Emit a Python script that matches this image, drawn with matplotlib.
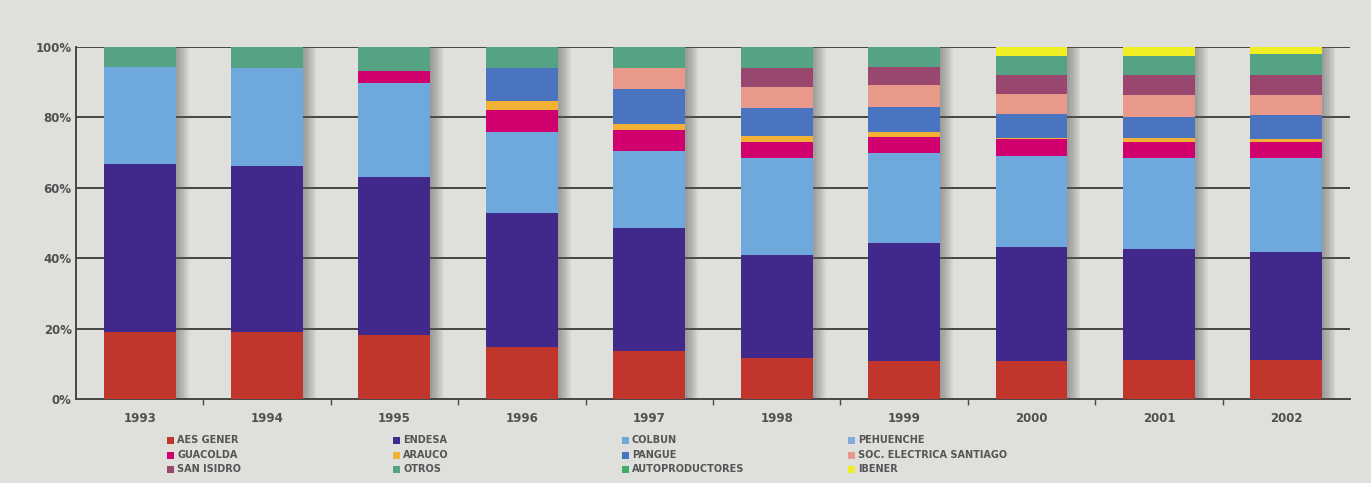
import matplotlib
matplotlib.use("Agg")
import matplotlib.pyplot as plt
from matplotlib.patches import Rectangle
import numpy as np

years = ["1993", "1994", "1995", "1996", "1997", "1998", "1999", "2000", "2001", "2002"]

aes_gener       = [19.2, 19.2, 18.2, 14.8, 13.7, 11.6, 10.7, 10.7, 11.1, 11.1]
endesa          = [47.5, 47.0, 44.8, 38.1, 35.0, 29.3, 33.7, 32.6, 31.4, 30.8]
colbun          = [27.6, 27.7, 26.6, 23.0, 21.8, 27.4, 25.4, 25.7, 25.8, 26.4]
pehuenche       = [0, 0, 0, 0, 0, 0, 0, 0, 0, 0]
guacolda        = [0, 0, 3.4, 6.1, 5.9, 4.8, 4.5, 4.7, 4.8, 4.8]
arauco          = [0, 0, 0, 2.5, 1.8, 1.6, 1.6, 0.5, 0.9, 0.7]
pangue          = [0, 0, 0, 9.4, 9.8, 7.8, 7.0, 6.8, 6.1, 6.8]
soc_electrica   = [0, 0, 0, 0, 5.9, 6.1, 6.2, 5.7, 6.2, 5.7]
san_isidro      = [0, 0, 0, 0, 0, 5.3, 5.2, 5.2, 5.6, 5.6]
otros           = [5.7, 6.1, 7.0, 6.1, 6.1, 6.1, 5.7, 5.6, 5.5, 6.0]
autoproductores = [0, 0, 0, 0, 0, 0, 0, 0, 0, 0]
ibener          = [0, 0, 0, 0, 0, 0, 0, 2.5, 2.6, 2.1]

series_names = ["AES GENER", "ENDESA", "COLBUN", "PEHUENCHE",
                "GUACOLDA", "ARAUCO", "PANGUE", "SOC. ELECTRICA SANTIAGO",
                "SAN ISIDRO", "OTROS", "AUTOPRODUCTORES", "IBENER"]
series_vals = [aes_gener, endesa, colbun, pehuenche, guacolda, arauco, pangue,
               soc_electrica, san_isidro, otros, autoproductores, ibener]
colors = ["#c0362c", "#40298a", "#6fa8dc", "#86a9dc",
          "#d0006f", "#f2b134", "#4a74c0", "#e8998a",
          "#9a4770", "#55a383", "#3fae6a", "#f0ee24"]

BG = "#dfe0dc"
fig = plt.figure(figsize=(13.71, 4.83), dpi=100, facecolor=BG)
ax = fig.add_axes([0.0554, 0.1735, 0.9293, 0.7298])
ax.set_facecolor(BG)

x = np.arange(len(years))
width = 0.565

# gridlines
for g in [20, 40, 60, 80, 100]:
    ax.axhline(g, color="#454545", lw=1.4, zorder=1)

# soft shadows
for k in range(8):
    off = 0.01 + k * 0.013
    ax.bar(x + off, [100] * len(x), width, color="#5a5a5a", alpha=0.08,
           zorder=2, linewidth=0)

bottom = np.zeros(len(years))
for name, vals, c in zip(series_names, series_vals, colors):
    v = np.array(vals, dtype=float)
    ax.bar(x, v, width, bottom=bottom, color=c, zorder=3, linewidth=0)
    bottom += v

ax.set_xlim(-0.5, len(years) - 0.5)
ax.set_ylim(0, 100)
ax.set_yticks([0, 20, 40, 60, 80, 100])
ax.set_yticklabels(["0%", "20%", "40%", "60%", "80%", "100%"],
                   fontsize=8.5, fontweight="bold", color="#505050")
ax.set_xticks(x)
ax.set_xticklabels(years, fontsize=8.5, fontweight="bold", color="#505050")
ax.tick_params(axis="x", which="major", length=0, pad=9)
ax.set_xticks(np.arange(0.5, len(years) - 0.5, 1), minor=True)
ax.tick_params(axis="x", which="minor", length=4, color="#4a4a4a", width=1)
ax.tick_params(axis="y", length=0, pad=3)
for s in ["top", "right"]:
    ax.spines[s].set_visible(False)
ax.spines["left"].set_color("#454545")
ax.spines["bottom"].set_color("#454545")
ax.spines["left"].set_linewidth(1.4)
ax.spines["bottom"].set_linewidth(1.4)

# legend (row-wise, 4 columns)
W, H = 1371.0, 483.0
col_x = [167, 393, 622, 848]
row_y = [440, 455, 469]
for i, (name, c) in enumerate(zip(series_names, colors)):
    col, row = i % 4, i // 4
    px, py = col_x[col], row_y[row]
    fig.patches.append(Rectangle((px / W, 1 - (py + 3.5) / H), 7 / W, 7 / H,
                                 transform=fig.transFigure, facecolor=c,
                                 edgecolor="none"))
    fig.text((px + 10) / W, 1 - py / H, name, fontsize=7, fontweight="bold",
             color="#555555", va="center", ha="left")

fig.savefig("out.png", dpi=100, facecolor=BG)
